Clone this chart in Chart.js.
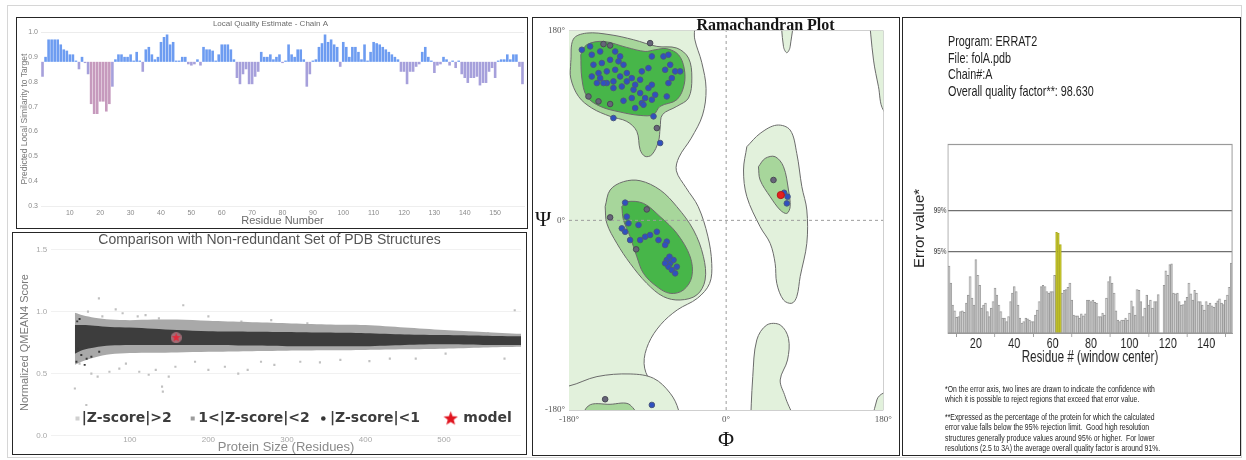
<!DOCTYPE html>
<html>
<head>
<meta charset="utf-8">
<title>Model quality</title>
<script src="https://cdn.jsdelivr.net/npm/chart.js@4.4.1/dist/chart.umd.min.js"></script>
<style>
  html, body { margin: 0; padding: 0; background: #fff; }
  body { position: relative; width: 1246px; height: 460px; overflow: hidden; font-family: "Liberation Sans", Arial, sans-serif; }
  .frame { position: absolute; left: 7px; top: 5px; width: 1233px; height: 451px; border: 1px solid #d6d6d6; }
  .panel { position: absolute; border: 1px solid #262626; background: #fff; overflow: hidden; }
  .panel canvas { position: absolute; left: 0; top: 0; }
  #p1 { left: 16px; top: 17px; width: 510px; height: 210px; }
  #p2 { left: 12px; top: 232px; width: 513px; height: 221px; }
  #p3 { left: 532px; top: 17px; width: 366px; height: 437px; }
  #p4 { left: 902px; top: 17px; width: 337px; height: 437px; }
  .errat-text { position: absolute; white-space: nowrap; transform: scaleX(0.72); transform-origin: 0 0; color: #1e1e1e; }
  #erratHead { left: 45px; top: 15px; font-size: 15px; line-height: 16.7px; }
  .note { left: 42px; font-size: 9.5px; line-height: 10.4px; }
  #note1 { top: 366px; }
  #note2 { top: 394px; }
</style>
</head>
<body>
<div class="frame"></div>
<div class="panel" id="p1"><canvas id="lqChart" width="510" height="210"></canvas></div>
<div class="panel" id="p2"><canvas id="qmeanChart" width="513" height="221"></canvas></div>
<div class="panel" id="p3"><canvas id="ramaChart" width="366" height="437"></canvas></div>
<div class="panel" id="p4">
  <canvas id="erratChart" width="468" height="437" style="width:337px;height:437px"></canvas>
  <div class="errat-text" id="erratHead">Program: ERRAT2<br>File: folA.pdb<br>Chain#:A<br>Overall quality factor**: 98.630</div>
  <div class="errat-text note" id="note1">*On the error axis, two lines are drawn to indicate the confidence with<br>which it is possible to reject regions that exceed that error value.</div>
  <div class="errat-text note" id="note2">**Expressed as the percentage of the protein for which the calculated<br>error value falls below the 95% rejection limit.&nbsp; Good high resolution<br>structures generally produce values around 95% or higher.&nbsp; For lower<br>resolutions (2.5 to 3A) the average overall quality factor is around 91%.</div>
</div>
<script>
// local quality estimate, one score per residue
const lqResidues = Array.from({ length: 159 }, (_, i) => i + 1);
const lqScores = [
  0.82, 0.90, 0.97, 0.97, 0.97, 0.97, 0.95, 0.93, 0.925, 0.91,
  0.91, 0.885, 0.85, 0.90, 0.875, 0.83, 0.71, 0.67, 0.67, 0.72,
  0.72, 0.68, 0.71, 0.78, 0.89, 0.91, 0.91, 0.90, 0.90, 0.91,
  0.885, 0.92, 0.885, 0.84, 0.93, 0.94, 0.91, 0.89, 0.90, 0.96,
  0.98, 0.99, 0.95, 0.96, 0.885, 0.885, 0.90, 0.90, 0.87, 0.865,
  0.87, 0.89, 0.865, 0.94, 0.93, 0.93, 0.925, 0.885, 0.91, 0.95,
  0.95, 0.95, 0.93, 0.89, 0.815, 0.79, 0.83, 0.85, 0.79, 0.79,
  0.82, 0.84, 0.92, 0.90, 0.90, 0.91, 0.89, 0.90, 0.91, 0.875,
  0.885, 0.95, 0.91, 0.90, 0.93, 0.93, 0.89, 0.78, 0.83, 0.885,
  0.89, 0.94, 0.955, 0.99, 0.96, 0.97, 0.95, 0.94, 0.86, 0.96,
  0.94, 0.90, 0.94, 0.94, 0.92, 0.89, 0.95, 0.885, 0.92, 0.96,
  0.955, 0.95, 0.94, 0.93, 0.92, 0.91, 0.90, 0.89, 0.84, 0.84,
  0.79, 0.84, 0.84, 0.86, 0.87, 0.92, 0.94, 0.90, 0.885, 0.835,
  0.865, 0.87, 0.90, 0.89, 0.865, 0.885, 0.855, 0.885, 0.83, 0.815,
  0.795, 0.815, 0.815, 0.82, 0.785, 0.795, 0.795, 0.84, 0.855, 0.815,
  0.885, 0.89, 0.89, 0.91, 0.89, 0.91, 0.91, 0.86, 0.79
];
const lqBaseline = 0.88;

// QMEAN comparison: bands of the reference set by protein size
const qmeanSizes     = [30, 40, 55, 75, 100, 130, 160, 200, 250, 300, 350, 400, 450, 500, 550, 598];
const qmeanCoreHigh  = [0.89, 0.89, 0.885, 0.875, 0.87, 0.86, 0.85, 0.84, 0.837, 0.835, 0.83, 0.825, 0.815, 0.81, 0.805, 0.80];
const qmeanCoreLow   = [0.66, 0.69, 0.71, 0.725, 0.73, 0.73, 0.73, 0.73, 0.725, 0.72, 0.72, 0.72, 0.73, 0.735, 0.73, 0.73];
const qmeanWideHigh  = [0.99, 0.97, 0.95, 0.935, 0.93, 0.935, 0.935, 0.925, 0.915, 0.905, 0.895, 0.89, 0.87, 0.85, 0.835, 0.82];
const qmeanWideLow   = [0.57, 0.60, 0.63, 0.655, 0.665, 0.668, 0.67, 0.675, 0.68, 0.684, 0.687, 0.69, 0.695, 0.70, 0.71, 0.716];
const qmeanOutliers = [
  [60.6, 1.105], [46.7, 0.998], [53, 0.93], [82, 1.017], [90.8, 0.985], [168, 1.05], [110, 0.96], [137, 0.944],
  [242, 0.918], [326, 0.904], [389, 0.877], [439, 0.85], [502, 0.837], [556, 0.824], [590, 1.01],
  [35, 0.95], [42, 0.92], [65, 0.96], [120, 0.97], [200, 0.96], [280, 0.93],
  [30, 0.38], [44.6, 0.247], [36, 0.58], [51, 0.50], [59, 0.475], [74, 0.515], [86.6, 0.54], [95, 0.58],
  [112, 0.515], [124, 0.49], [133, 0.53], [141, 0.395], [142, 0.355], [149.5, 0.475], [158, 0.555],
  [183, 0.595], [200, 0.53], [221, 0.555], [238, 0.50], [250, 0.53], [267, 0.595], [284, 0.57], [317, 0.595],
  [342, 0.59], [368, 0.61], [405, 0.60], [431, 0.62], [464, 0.62], [502, 0.66], [577, 0.62], [586, 0.73]
];
const qmeanCoreStray = [[34, 0.70], [38.2, 0.65], [32, 0.596], [42.5, 0.57], [51, 0.636], [61, 0.676], [45, 0.62], [36, 0.94], [33, 0.92]];
const qmeanModel = { size: 159, score: 0.789 };

// Ramachandran residues as [phi, psi]
const ramaGeneral = [
  [-165.3, 161.9], [-155.8, 165.1], [-153.9, 157.2], [-144.3, 160.3], [-127.1, 160.3], [-121.4, 155.6], [-123.3, 150.9],
  [-152.0, 147.7], [-142.4, 149.3], [-132.9, 152.4], [-117.6, 147.7], [-127.1, 142.9], [-136.7, 141.4], [-146.2, 139.8],
  [-153.9, 136.6], [-144.3, 135.0], [-136.7, 130.3], [-129.1, 131.9], [-121.4, 136.6], [-113.8, 139.8], [-108.1, 135.0],
  [-96.6, 141.4], [-89.0, 144.5], [-113.8, 131.9], [-119.5, 127.1], [-129.1, 125.6], [-140.5, 130.3], [-148.1, 130.3],
  [-104.2, 128.7], [-98.5, 133.5], [-106.1, 124.0], [-98.5, 120.8], [-89.0, 125.6], [-85.1, 128.7], [-81.3, 119.2],
  [-85.1, 114.5], [-92.8, 116.1], [-96.6, 111.3], [-108.1, 116.1], [-117.6, 113.5], [-104.2, 106.6], [-94.7, 109.7],
  [-85.1, 155.6], [-71.8, 155.6], [-66.1, 157.2], [-64.1, 147.7], [-69.9, 142.9], [-58.4, 141.4], [-52.7, 141.4],
  [-62.2, 135.0], [-66.1, 130.3], [-68.0, 117.6], [-83.2, 98.7], [-75.6, 73.4], [-129.1, 97.1],
  [-115.7, 16.8], [-113.8, 3.5], [-111.9, -2.8], [-119.5, -7.6], [-115.7, -10.8], [-100.4, -4.4], [-92.8, -15.5],
  [-79.4, -10.8], [-110.0, -18.7], [-98.5, -18.7], [-87.1, -13.9], [-77.5, -18.7], [-68.0, -20.2], [-69.9, -23.4],
  [-68.0, -37.6], [-64.1, -40.8], [-60.3, -37.6], [-66.1, -44.0], [-62.2, -47.1], [-56.5, -44.0], [-58.4, -50.3],
  [-69.9, -40.8], [-64.9, -34.5],
  [66.4, 26.2], [70.3, 22.5], [69.5, 16.1], [-85.1, -175.2]
];
const ramaGlycine = [
  [-140.5, 167.3], [-132.9, 166.0], [-87.1, 168.2], [-157.7, 117.6], [-146.2, 112.9], [-132.9, 110.4], [-79.4, 87.6],
  [-90.9, 10.4], [-132.9, 2.8], [-103.1, -27.5], [54.2, 38.3], [-138.6, -169.8]
];
const ramaOutlier = [[62.6, 24.0]];

// contour outlines of the favoured / allowed regions, [phi, psi]
const ramaAllowedLeft = [
  [-200, 200], [-40, 200], [-36, 172], [-28, 150], [-23, 125], [-27, 100], [-40, 78], [-54, 60], [-57, 47], [-46, 31],
  [-32, 13], [-21, -15], [-16.5, -41], [-19, -60], [-33, -74], [-56, -85], [-75, -99], [-89, -117], [-94, -136],
  [-87, -152], [-65, -168], [-52, -200], [-200, -200]
];
const ramaAllowedBottomLeft = [
  [-200, -158], [-180, -157.2], [-148, -148.3], [-110, -145.8], [-83.2, -149.9], [-64.1, -164.1], [-54.6, -180],
  [-52, -200], [-200, -200]
];
const ramaAllowedAlphaL = [
  [23.7, 69.9], [38.9, 82.5], [58, 90.4], [73.3, 85.7], [80.9, 63.6], [86.7, 31.9], [92.4, 9.8], [92.4, -21.8],
  [84.8, -53.4], [80.9, -72.4], [75.2, -78.7], [65.7, -75.6], [58, -59.8], [56.1, -40.8], [50.4, -21.8], [38.9, -6],
  [23.7, 22.5], [19.9, 47.8]
];
const ramaAllowedLowRight = [
  [27.5, -200], [30.5, -148.3], [35.1, -113.5], [46.6, -99.3], [61.9, -99.3], [71.4, -112], [70.3, -132.5],
  [61.9, -151.5], [67.6, -167.3], [79, -200]
];
const ramaAllowedTopRight = [[62, 200], [65.7, 164.8], [69.5, 159.1], [73.3, 164.8], [76, 200]];
const ramaAllowedEdgeTop = [[163, 200], [168.8, 152.1], [174.5, 126.8], [180, 104.7], [200, 90], [200, 200]];
const ramaAllowedEdgeBottom = [[200, -160], [180, -164], [172.6, -170.5], [168.8, -200], [200, -200]];
const ramaFavouredBeta = [
  [-178, 150], [-175, 172], [-160, 177.7], [-133, 176.2], [-106, 171.4], [-79.4, 165.1], [-56.5, 163.5], [-43.1, 154],
  [-39.3, 135], [-43.1, 116.1], [-56.5, 108.2], [-73, 100.3], [-75.6, 87.6], [-77.5, 75], [-85.1, 62.3], [-92.8, 60.7],
  [-98.5, 67], [-102.3, 84.4], [-113.8, 93.9], [-132.9, 98.7], [-153.9, 106.6], [-169.1, 117.6], [-178, 135]
];
const ramaFavouredAlpha = [
  [-138.6, 13], [-132.9, 28.8], [-117.6, 36.7], [-98.5, 37.6], [-75.6, 28.8], [-56.5, 13], [-37.4, -9.2], [-26, -34.5],
  [-24.1, -56.6], [-33.6, -70.8], [-52.7, -75.6], [-71.8, -72.4], [-90.9, -59.8], [-110, -40.8], [-125.2, -21.8], [-136.7, -2.8]
];
const ramaFavouredAlphaL = [
  [37, 50.9], [44.7, 58.8], [56.1, 60.4], [65.7, 50.9], [71.4, 28.8], [73.3, 13], [69.5, 6.6], [61.9, 9.8], [50.4, 22.5], [38.9, 38.3]
];
const ramaFavouredBottom = [[-170, -200], [-158, -176.2], [-133, -174.6], [-110, -175.2], [-97, -200]];
const ramaCoreBeta = [
  [-166.5, 157.2], [-159.6, 166.7], [-140.5, 169.8], [-113.8, 164.1], [-92.8, 160.3], [-81.3, 161.9], [-68, 162.9],
  [-54.6, 157.2], [-48.1, 144.5], [-48.1, 128.7], [-56.5, 114.5], [-75.6, 108.2], [-83.2, 100.3], [-98.5, 99.6],
  [-121.4, 102.8], [-144.3, 108.2], [-159.6, 117.6], [-165.3, 135]
];
const ramaCoreAlpha = [
  [-119.5, 13], [-113.8, 17.7], [-94.7, 16.1], [-75.6, 3.5], [-56.5, -12.3], [-41.2, -34.5], [-39.3, -53.4],
  [-48.9, -66.1], [-64.1, -69.3], [-79.4, -62.9], [-94.7, -50.3], [-102.3, -34.5], [-110, -15.5], [-117.6, 0.3]
];

// ERRAT error value per 9-residue window
const erratResidues = Array.from({ length: 148 }, (_, i) => i + 6);
const erratValues = [
  9.4, 7.0, 3.9, 3.1, 2.2, 2.3, 3.0, 3.1, 2.9, 4.2,
  5.3, 7.9, 4.9, 3.9, 10.3, 8.1, 6.7, 3.5, 3.9, 4.2,
  3.0, 2.3, 3.5, 4.4, 6.3, 5.3, 3.9, 3.0, 2.1, 2.1,
  1.6, 2.3, 4.4, 5.6, 6.5, 5.8, 3.9, 2.1, 1.4, 1.6,
  2.1, 2.0, 1.8, 1.6, 1.6, 2.5, 3.2, 4.4, 6.5, 6.7,
  6.5, 5.8, 5.6, 5.8, 5.8, 8.1, 14.1, 14.0, 12.4, 5.6,
  6.0, 6.1, 6.4, 7.0, 4.6, 2.5, 2.4, 2.4, 2.1, 2.7,
  2.4, 2.7, 4.6, 4.6, 4.4, 4.6, 4.3, 4.2, 2.3, 2.3,
  2.8, 2.5, 4.9, 7.2, 7.9, 7.0, 5.6, 3.1, 1.8, 1.6,
  1.8, 1.8, 2.1, 1.8, 2.8, 4.5, 3.7, 2.5, 6.1, 6.0,
  4.4, 2.3, 3.5, 5.3, 3.9, 4.6, 3.5, 4.4, 4.4, 5.4,
  null, null, 6.7, 8.7, 8.1, 9.6, 9.7, 5.6, 5.5, 5.6,
  4.4, 3.9, 4.0, 4.5, 5.0, 7.0, 5.5, 4.6, 6.0, 5.6,
  4.4, 4.4, 3.9, 3.2, 4.4, 3.9, 4.2, 3.8, 3.6, 4.2,
  4.5, 4.8, 4.2, 4.0, 4.6, 5.3, 6.4, 9.8
];
const erratLimit95 = 11.38;
const erratLimit99 = 17.19;

Chart.defaults.font.family = '"Liberation Sans", Arial, sans-serif';
Chart.defaults.animation = false;
Chart.defaults.events = [];
Chart.defaults.plugins.legend.display = false;
Chart.defaults.plugins.tooltip.enabled = false;

const SANS = '"Liberation Sans", Arial, sans-serif';
const SERIF = '"Liberation Serif", "Times New Roman", serif';

function makeStar(size, fill, halo) {
  const c = document.createElement('canvas');
  c.width = c.height = size;
  const g = c.getContext('2d');
  const r = size / 2;
  if (halo) {
    g.fillStyle = halo;
    g.beginPath();
    g.arc(r, r, r, 0, Math.PI * 2);
    g.fill();
  }
  const outer = halo ? r * 0.85 : r;
  g.beginPath();
  for (let i = 0; i < 10; i++) {
    const a = -Math.PI / 2 + i * Math.PI / 5;
    const rr = i % 2 ? outer * 0.42 : outer;
    g.lineTo(r + rr * Math.cos(a), r + rr * Math.sin(a) + (halo ? 0 : 0.8));
  }
  g.closePath();
  g.fillStyle = fill;
  g.fill();
  return c;
}

// ---------- local quality bars ----------
function lqColour(v) {
  if (v >= lqBaseline) return '#6d9cf1';
  if (v >= 0.775) return '#a6a0db';
  return '#c69abd';
}

new Chart(document.getElementById('lqChart'), {
  type: 'bar',
  data: {
    labels: lqResidues,
    datasets: [{
      data: lqScores.map(v => [lqBaseline, v]),
      backgroundColor: ctx => lqColour(lqScores[ctx.dataIndex]),
      borderWidth: 0,
      barPercentage: 0.86,
      categoryPercentage: 1
    }]
  },
  options: {
    responsive: false,
    devicePixelRatio: 1,
    layout: { padding: { left: 0, right: 3, top: 0, bottom: 0 } },
    plugins: {
      title: {
        display: true,
        text: 'Local Quality Estimate - Chain A',
        color: '#6c6c6c',
        font: { size: 8, weight: 'normal' },
        padding: { top: 1, bottom: 3.4 }
      }
    },
    scales: {
      x: {
        grid: { display: false, drawTicks: false },
        border: { color: '#eeeeee' },
        ticks: {
          autoSkip: false, maxRotation: 0, color: '#8a8a8a', font: { size: 7 }, padding: 3,
          callback: (v, i) => (lqResidues[i] % 10 === 0 ? String(lqResidues[i]) : null)
        },
        title: { display: true, text: 'Residue Number', color: '#6a6a6a', font: { size: 11 }, padding: { top: 0, bottom: 0.4 } },
        afterFit: s => { s.height = 22; }
      },
      y: {
        min: 0.3, max: 1.0,
        ticks: { stepSize: 0.1, color: '#8a8a8a', font: { size: 7 }, padding: 3, callback: v => v.toFixed(1) },
        grid: { drawTicks: false, color: c => (Math.abs(c.tick.value - 1) < 1e-6 ? '#ececec' : 'transparent') },
        border: { display: false },
        title: { display: true, text: 'Predicted Local Similarity to Target', color: '#7a7a7a', font: { size: 8.5 }, padding: { top: 2.9, bottom: 0 } },
        afterFit: s => { s.width = 24; }
      }
    }
  }
});

// ---------- QMEAN comparison ----------
const modelStar = makeStar(11, '#e3283a', 'rgba(240,150,165,0.55)');
const legendStar = makeStar(15, '#e0141f');

const qmeanLegend = {
  id: 'qmeanLegend',
  afterDraw(chart) {
    const { ctx } = chart;
    const y = 185.5;
    ctx.save();
    ctx.fillStyle = '#d0d0d0';
    ctx.fillRect(62.5, y - 2, 4, 4);
    ctx.fillStyle = '#9c9c9c';
    ctx.fillRect(177.7, y - 2, 4, 4);
    ctx.fillStyle = '#353535';
    ctx.beginPath();
    ctx.arc(310.3, y, 2.3, 0, Math.PI * 2);
    ctx.fill();
    ctx.drawImage(legendStar, 437.7 - 7.5, y - 8);
    ctx.font = 'bold 14px "DejaVu Sans", "Liberation Sans", sans-serif';
    ctx.textBaseline = 'middle';
    ctx.fillStyle = '#3c3c3c';
    ctx.fillText('|Z-score|>2', 68.7, y);
    ctx.fillText('1<|Z-score|<2', 185.3, y);
    ctx.fillText('|Z-score|<1', 317, y);
    ctx.fillText('model', 450.3, y);
    ctx.restore();
  }
};

const toXY = pairs => pairs.map(([x, y]) => ({ x, y }));
const bandLine = (values, extra) => Object.assign({
  type: 'line',
  data: qmeanSizes.map((x, i) => ({ x, y: values[i] })),
  pointRadius: 0, borderWidth: 0, tension: 0.3
}, extra);

new Chart(document.getElementById('qmeanChart'), {
  type: 'scatter',
  data: {
    datasets: [
      { data: [{ x: qmeanModel.size, y: qmeanModel.score }], pointStyle: modelStar, order: 0 },
      { data: toXY(qmeanCoreStray), pointStyle: 'rect', pointRadius: 1.4, backgroundColor: '#3a3a3a', borderWidth: 0, order: 1 },
      bandLine(qmeanCoreHigh, { fill: '+1', backgroundColor: '#3d3d3d', order: 2 }),
      bandLine(qmeanCoreLow, { order: 2 }),
      bandLine(qmeanWideHigh, { fill: '+1', backgroundColor: '#a9a9a9', order: 3 }),
      bandLine(qmeanWideLow, { order: 3 }),
      { data: toXY(qmeanOutliers), pointStyle: 'rect', pointRadius: 1.5, backgroundColor: '#c0c0c0', borderWidth: 0, order: 4 }
    ]
  },
  options: {
    responsive: false,
    devicePixelRatio: 1,
    layout: { padding: 0 },
    plugins: {
      title: {
        display: true,
        text: 'Comparison with Non-redundant Set of PDB Structures',
        color: '#555555',
        font: { size: 14, weight: 'normal', lineHeight: 1 },
        padding: { top: 0, bottom: 2.3 }
      }
    },
    scales: {
      x: {
        type: 'linear', min: 0, max: 598,
        afterBuildTicks: s => { s.ticks = [100, 200, 300, 400, 500].map(v => ({ value: v })); },
        grid: { display: false, drawTicks: false },
        border: { display: false },
        ticks: { color: '#a8a8a8', font: { size: 8 }, padding: -1 },
        title: { display: true, text: 'Protein Size (Residues)', color: '#8a8a8a', font: { size: 13, lineHeight: 1 }, padding: { top: 0, bottom: 0 } },
        afterFit: s => { s.height = 18.3; }
      },
      y: {
        min: 0, max: 1.5,
        ticks: { stepSize: 0.5, color: '#a8a8a8', font: { size: 8 }, padding: 4, callback: v => v.toFixed(1) },
        grid: { color: '#f1f1f1', drawTicks: false },
        border: { display: false },
        title: { display: true, text: 'Normalized QMEAN4 Score', color: '#7a7a7a', font: { size: 11 }, padding: { top: 5.4, bottom: 0 } },
        afterFit: s => { s.width = 38.3; }
      }
    }
  },
  plugins: [qmeanLegend]
});

// ---------- Ramachandran plot ----------
const ramaLabels = {
  id: 'ramaLabels',
  afterDraw(chart) {
    const { ctx, chartArea } = chart;
    ctx.save();
    ctx.fillStyle = '#151515';
    ctx.font = 'bold 16px ' + SERIF;
    ctx.textAlign = 'center';
    ctx.textBaseline = 'alphabetic';
    ctx.fillText('Ramachandran Plot', 232.5, chartArea.top - 0.5);
    ctx.font = '22px ' + SERIF;
    ctx.textBaseline = 'middle';
    ctx.fillText('\u03A8', 10, chart.scales.y.getPixelForValue(0));
    ctx.restore();
  }
};

const region = (pts, colour, order) => ({
  type: 'line',
  data: toXY(pts).concat(toXY([pts[0]])),
  fill: 'shape',
  backgroundColor: colour,
  borderColor: '#6b6b6b',
  borderWidth: 1,
  pointRadius: 0,
  tension: 0.35,
  order
});
const LIGHT = '#e2f1dc', MID = '#a7d69b', DARK = '#47b649';
const dotSet = (pts, fill, edge, r, order) => ({
  data: toXY(pts), pointRadius: r, backgroundColor: fill, borderColor: edge, borderWidth: 1, order
});
const axisLine = (pts) => ({
  type: 'line', data: toXY(pts), borderColor: '#9c9c9c', borderWidth: 1, borderDash: [3, 3], pointRadius: 0, fill: false, order: 2
});

new Chart(document.getElementById('ramaChart'), {
  type: 'scatter',
  data: {
    datasets: [
      dotSet(ramaOutlier, '#e41f1f', '#b51a1a', 3.6, 0),
      dotSet(ramaGeneral, '#2f50c0', '#4b5880', 2.8, 1),
      dotSet(ramaGlycine, '#666478', '#4a4a55', 2.8, 1),
      axisLine([[0, -180], [0, 180]]),
      axisLine([[-180, 0], [180, 0]]),
      region(ramaCoreBeta, DARK, 3),
      region(ramaCoreAlpha, DARK, 3),
      region(ramaFavouredBeta, MID, 4),
      region(ramaFavouredAlpha, MID, 4),
      region(ramaFavouredAlphaL, MID, 4),
      region(ramaFavouredBottom, MID, 4),
      region(ramaAllowedBottomLeft, LIGHT, 5),
      region(ramaAllowedLeft, LIGHT, 6),
      region(ramaAllowedAlphaL, LIGHT, 6),
      region(ramaAllowedLowRight, LIGHT, 6),
      region(ramaAllowedTopRight, LIGHT, 6),
      region(ramaAllowedEdgeTop, LIGHT, 6),
      region(ramaAllowedEdgeBottom, LIGHT, 6)
    ]
  },
  options: {
    responsive: false,
    devicePixelRatio: 1,
    layout: { padding: { left: 0, right: 15.7, top: 12.7, bottom: 0 } },
    scales: {
      x: {
        min: -180, max: 180,
        afterBuildTicks: s => { s.ticks = [-180, 0, 180].map(v => ({ value: v })); },
        grid: { drawTicks: false, color: c => (Math.abs(c.tick.value) === 180 ? '#cfcfcf' : 'transparent') },
        border: { display: false },
        ticks: { color: '#555', font: { family: SERIF, size: 9 }, padding: 4, callback: v => v + '\u00B0' },
        title: { display: true, text: '\u03A6', color: '#1a1a1a', font: { family: SERIF, size: 22, lineHeight: 1 }, padding: { top: 0, bottom: 4 } },
        afterFit: s => { s.height = 45; }
      },
      y: {
        min: -180, max: 180,
        afterBuildTicks: s => { s.ticks = [-180, 0, 180].map(v => ({ value: v })); },
        grid: { drawTicks: false, color: c => (Math.abs(c.tick.value) === 180 ? '#cfcfcf' : 'transparent') },
        border: { display: false },
        ticks: { color: '#555', font: { family: SERIF, size: 9 }, padding: 4, callback: v => v + '\u00B0' },
        afterFit: s => { s.width = 36; }
      }
    }
  },
  plugins: [ramaLabels]
});

// ---------- ERRAT ----------
// the canvas is drawn 468 wide and shown 337 wide, so text that must keep
// its normal proportions is stretched back by 1 / 0.72
const erratSqueeze = 337 / 468;
const erratDecor = {
  id: 'erratDecor',
  afterDraw(chart, args, opts) {
    const { ctx, chartArea: a } = chart;
    ctx.save();
    ctx.strokeStyle = opts.frameColor;
    ctx.lineWidth = 1.2;
    ctx.strokeRect(a.left, a.top + 0.5, a.width, a.height - 0.5);
    ctx.translate(opts.titleX, opts.titleY);
    ctx.scale(1 / erratSqueeze, 1);
    ctx.rotate(-Math.PI / 2);
    ctx.fillStyle = '#222';
    ctx.font = '15px ' + SANS;
    ctx.textAlign = 'center';
    ctx.textBaseline = 'middle';
    ctx.fillText(opts.title, 0, 0);
    ctx.restore();
  }
};

new Chart(document.getElementById('erratChart'), {
  type: 'bar',
  data: {
    labels: erratResidues,
    datasets: [{
      data: erratValues,
      backgroundColor: ctx => (erratValues[ctx.dataIndex] > erratLimit95 ? '#c8c82c' : '#d3d3d3'),
      borderColor: ctx => (erratValues[ctx.dataIndex] > erratLimit95 ? '#a9a91e' : '#979797'),
      borderWidth: 1,
      barPercentage: 1,
      categoryPercentage: 1
    }]
  },
  options: {
    responsive: false,
    devicePixelRatio: 1,
    layout: { padding: { left: 0, right: 11, top: 126, bottom: 88 } },
    plugins: { erratDecor: { frameColor: '#9a9a9a', title: 'Error value*', titleX: 23.6, titleY: 210.5 } },
    scales: {
      x: {
        grid: { drawOnChartArea: false, tickLength: 4, tickColor: '#777' },
        border: { color: '#9a9a9a' },
        ticks: {
          autoSkip: false, maxRotation: 0, color: '#222', font: { size: 15, lineHeight: 1 }, padding: -1,
          callback: (v, i) => (erratResidues[i] % 20 === 0 ? String(erratResidues[i]) : null)
        },
        title: { display: true, text: 'Residue # (window center)', color: '#222', font: { size: 16, lineHeight: 1 }, padding: { top: 0, bottom: 1.5 } },
        afterFit: s => { s.height = 34; }
      },
      y: {
        min: 0, max: 26.5,
        afterBuildTicks: s => { s.ticks = [erratLimit95, erratLimit99].map(v => ({ value: v })); },
        grid: { drawTicks: false, color: '#707070', lineWidth: 1.2 },
        border: { color: '#9a9a9a' },
        ticks: { color: '#444', font: { size: 9 }, padding: 2, callback: v => (v === erratLimit95 ? '95%' : '99%') },
        afterFit: s => { s.width = 62.5; }
      }
    }
  },
  plugins: [erratDecor]
});
</script>
</body>
</html>
